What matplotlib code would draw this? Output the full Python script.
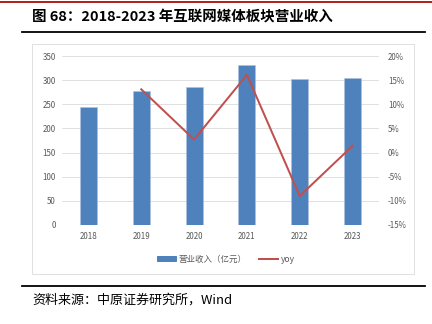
import numpy as np
import matplotlib
matplotlib.use('Agg')
import matplotlib.pyplot as plt
from matplotlib.lines import Line2D
from matplotlib.patches import Rectangle, Patch

plt.rcParams['font.family'] = ['Noto Sans CJK SC', 'DejaVu Sans']

years = ['2018', '2019', '2020', '2021', '2022', '2023']
revenue = [245, 277, 285, 331, 302, 305]
yoy_years = ['2019', '2020', '2021', '2022', '2023']
yoy = [13.1, 2.7, 16.1, -9.0, 1.4]

bar_color = '#4F81BD'
line_color = '#C0504D'
grid_color = '#D9D9D9'
tick_color = '#595959'

fig = plt.figure(figsize=(6, 4.5), dpi=72)
ax = fig.add_axes([62 / 432, 1 - 225 / 324, 317 / 432, 169 / 324])

x = np.arange(len(years))
ax.bar(x, revenue, width=0.32, color=bar_color, edgecolor='#ADC3E0', linewidth=0.5, zorder=2)
ax.set_xlim(-0.5, len(years) - 0.5)
ax.set_ylim(0, 350)
ax.set_yticks(np.arange(0, 351, 50))
ax.set_xticks(x)
ax.set_xticklabels(years)
ax.grid(axis='y', color=grid_color, linewidth=0.8, zorder=0)
for s in ax.spines.values():
    s.set_visible(False)
ax.tick_params(length=0, labelsize=8, colors=tick_color, pad=6)
ax.tick_params(axis='x', pad=7)

ax2 = ax.twinx()
xi = [years.index(y) for y in yoy_years]
ax2.plot(xi, yoy, color=line_color, linewidth=2, zorder=3)
ax2.set_ylim(-15, 20)
ax2.set_yticks(np.arange(-15, 21, 5))
ax2.set_yticklabels([f'{v}%' for v in range(-15, 21, 5)])
for s in ax2.spines.values():
    s.set_visible(False)
ax2.tick_params(length=0, labelsize=8, colors=tick_color, pad=9)

# legend
handles = [Patch(color=bar_color), Line2D([0], [0], color=line_color, linewidth=2)]
fig.legend(handles, ['营业收入（亿元）', 'yoy'], loc='center', bbox_to_anchor=(226 / 432, 1 - 259 / 324),
           ncol=2, frameon=False, fontsize=8.5, labelcolor=tick_color, handlelength=2.2,
           handleheight=0.5, columnspacing=1.5, handletextpad=0.3)

# chart frame
fig.add_artist(Rectangle((32 / 432, 1 - 274 / 324), 382 / 432, 230 / 324, transform=fig.transFigure,
                         fill=False, edgecolor=grid_color, linewidth=0.8))

# header / footer decorations
fig.add_artist(Line2D([0, 1], [1 - 2 / 324, 1 - 2 / 324], color='#B22222', linewidth=2, transform=fig.transFigure))
fig.add_artist(Line2D([22 / 432, 425 / 432], [1 - 32 / 324, 1 - 32 / 324], color='black', linewidth=1.8,
                      transform=fig.transFigure))
fig.add_artist(Line2D([22 / 432, 425 / 432], [1 - 286 / 324, 1 - 286 / 324], color='black', linewidth=1.8,
                      transform=fig.transFigure))
fig.text(32 / 432, 1 - 17 / 324, '图 68：2018-2023 年互联网媒体板块营业收入', fontsize=14.5, fontweight='bold',
         va='center', ha='left')
fig.text(32 / 432, 1 - 300 / 324, '资料来源：中原证券研究所，Wind', fontsize=13, va='center', ha='left')

fig.savefig('out.png', dpi=72)
